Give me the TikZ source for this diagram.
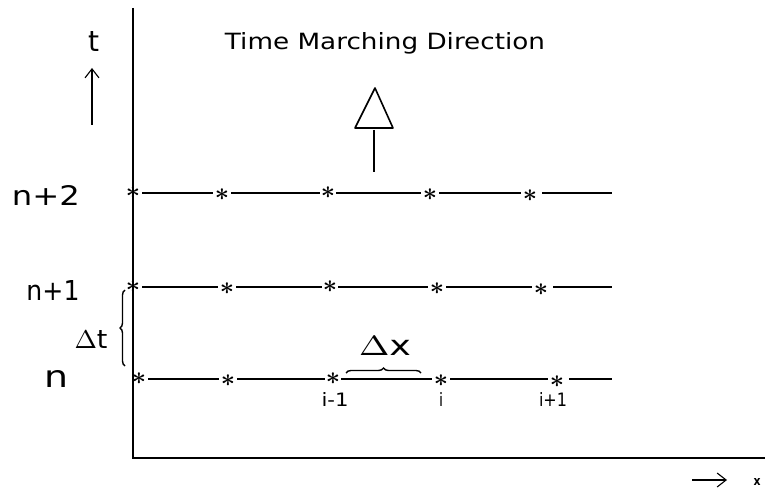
\documentclass[tikz,border=0pt]{standalone}
\usepackage{fontspec}
\setmainfont{DejaVu Sans}
\usetikzlibrary{decorations.pathreplacing,arrows.meta}
\newcommand{\fitto}[3]{\resizebox{#1pt}{#2pt}{#3}}
\begin{document}
\begin{tikzpicture}[x=1pt,y=-1pt,
  axis/.style={line width=1.8pt},
  gridline/.style={line width=1.5pt},
  star/.style={inner sep=0pt,font=\fontsize{26}{26}\selectfont\boldmath},
  lbl/.style={inner sep=0pt},
  bracestyle/.style={line width=1.4pt,decorate,decoration={brace,amplitude=5pt}}]
\useasboundingbox (0,0) rectangle (765,489);
% axes
\coordinate (top) at (133,8);
\coordinate (origin) at (133,458);
\coordinate (xend) at (765,458);
\draw[axis] (top) -- (origin) -- (xend);
% title
\node[lbl] (title) at (385,43) {\fitto{320}{17}{Time Marching Direction}};
% t axis label and arrow
\node[lbl] (tlab) at (94,42) {\fitto{11}{20}{t}};
\coordinate (tarrA) at (92,125);
\coordinate (tarrB) at (92,68);
\draw[line width=1.1pt,-{Straight Barb[length=9pt,width=14pt]}] (tarrA) -- (tarrB);
% big arrow
\coordinate (apex) at (375,88);
\coordinate (bl) at (355,128);
\coordinate (br) at (393,128);
\coordinate (stemtop) at (374,130);
\coordinate (stembot) at (374,172);
\draw[line width=1.6pt,line join=round] (apex) -- (bl) -- (br) -- cycle;
\draw[line width=1.6pt] (stemtop) -- (stembot);
% row labels
\node[lbl] (l2) at (46,195) {\fitto{68}{20}{n+2}};
\node[lbl] (l1) at (53,290) {\fitto{53}{20}{n+1}};
\node[lbl] (l0) at (57,379) {\fitto{24}{17}{n}};
\node[lbl] (dt) at (91,339) {\fitto{33}{18}{$\Delta$t}};
% rows of stars
\foreach \r/\y/\a/\b/\c/\d/\e in {2/193/133/222/328/430/530, 1/287/133/227/330/437/541, 0/379/139/228/333/441/557}{
  \node[star] (s\r a) at (\a,\y) {$\ast$};
  \node[star] (s\r b) at (\b,\y+2) {$\ast$};
  \node[star] (s\r c) at (\c,\y) {$\ast$};
  \node[star] (s\r d) at (\d,\y+2) {$\ast$};
  \node[star] (s\r e) at (\e,\y+3) {$\ast$};
  \coordinate (end\r) at (612,\y);
  \draw[gridline] (s\r a.east) ++(2,0) -- ([xshift=-2pt]s\r b.west |- 0,\y);
  \draw[gridline] ([xshift=2pt]s\r b.east |- 0,\y) -- ([xshift=-1pt]s\r c.west |- 0,\y);
  \draw[gridline] ([xshift=1pt]s\r c.east |- 0,\y) -- ([xshift=-2pt]s\r d.west |- 0,\y);
  \draw[gridline] ([xshift=2pt]s\r d.east |- 0,\y) -- ([xshift=-2pt]s\r e.west |- 0,\y);
  \draw[gridline] ([xshift=5pt]s\r e.east |- 0,\y) -- (end\r);
}
% index labels
\node[lbl] (im1) at (335,399) {\fitto{27}{14}{i-1}};
\node[lbl] (i0) at (441,399) {\fitto{4}{14}{i}};
\node[lbl] (ip1) at (553,399) {\fitto{28}{14}{i+1}};
% delta t brace
\coordinate (dtb) at (125,366);
\coordinate (dtt) at (125,290);
\draw[bracestyle] (dtb) -- (dtt);
% delta x brace
\coordinate (dxl) at (346,373);
\coordinate (dxr) at (421,373);
\draw[bracestyle] (dxl) -- (dxr);
\node[lbl] (dx) at (385,346) {\fitto{52}{19}{$\Delta$x}};
% x arrow
\coordinate (xa) at (692,480);
\coordinate (xb) at (727,480);
\draw[line width=1.1pt,-{Straight Barb[length=9pt,width=14pt]}] (xa) -- (xb);
\node[lbl] (xlab) at (757,482) {\fitto{7}{7}{\bfseries x}};
\end{tikzpicture}
\end{document}
